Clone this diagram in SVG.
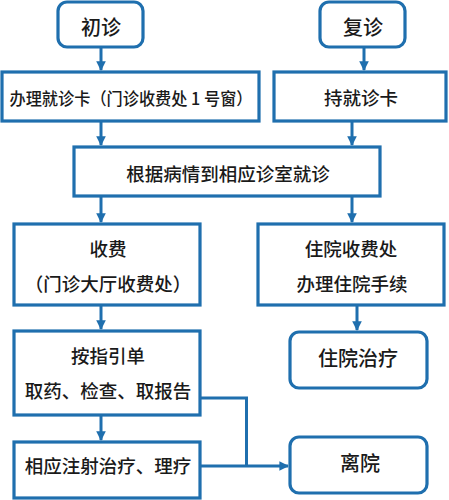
<svg xmlns="http://www.w3.org/2000/svg" width="449" height="500" viewBox="0 0 449 500">
<defs>
<marker id="ah" viewBox="0 0 10 10" refX="9" refY="5" markerWidth="3.2" markerHeight="3.2" orient="auto" markerUnits="strokeWidth">
<path d="M0,0 L10,5 L0,10 Z" fill="#1f6fae"/>
</marker>
<style>
.box{fill:#fff;stroke:#1f6fae;stroke-width:3.2}
.t{font-family:"Noto Sans CJK SC","Liberation Sans",sans-serif;font-size:18.5px;font-weight:500;fill:#1a1a1a;text-anchor:middle;dominant-baseline:central}
.c{fill:none;stroke:#1f6fae;stroke-width:3}
</style>
</defs>
<rect width="449" height="500" fill="#fff"/>
<g id="connectors">
<line class="c" x1="101" y1="48" x2="101" y2="70" marker-end="url(#ah)"/>
<line class="c" x1="364" y1="48" x2="364" y2="70" marker-end="url(#ah)"/>
<line class="c" x1="101" y1="122" x2="101" y2="145" marker-end="url(#ah)"/>
<line class="c" x1="352" y1="122" x2="352" y2="145" marker-end="url(#ah)"/>
<line class="c" x1="101" y1="197" x2="101" y2="222" marker-end="url(#ah)"/>
<line class="c" x1="352" y1="197" x2="352" y2="222" marker-end="url(#ah)"/>
<line class="c" x1="101" y1="306" x2="101" y2="329" marker-end="url(#ah)"/>
<line class="c" x1="357" y1="306" x2="357" y2="330" marker-end="url(#ah)"/>
<line class="c" x1="101" y1="415" x2="101" y2="440" marker-end="url(#ah)"/>
<polyline class="c" points="200,398 246.5,398 246.5,466"/>
<line class="c" x1="200" y1="466" x2="288" y2="466" marker-end="url(#ah)"/>
</g>
<g id="n1"><rect class="box" x="58" y="2" width="85" height="45" rx="9"/><text class="t" x="101" y="26" style="font-size:20px">初诊</text></g>
<g id="n2"><rect class="box" x="320" y="2" width="85" height="45" rx="9"/><text class="t" x="363" y="26" style="font-size:20px">复诊</text></g>
<g id="n3"><rect class="box" x="2" y="72" width="257" height="49"/><text class="t" x="131" y="97" style="font-size:17px" textLength="243" lengthAdjust="spacingAndGlyphs">办理就诊卡（门诊收费处 1 号窗）</text></g>
<g id="n4"><rect class="box" x="274" y="72" width="172" height="49"/><text class="t" x="361" y="97">持就诊卡</text></g>
<g id="n5"><rect class="box" x="74" y="147" width="306" height="49"/><text class="t" x="228" y="173">根据病情到相应诊室就诊</text></g>
<g id="n6"><rect class="box" x="14" y="224" width="186" height="81"/><text class="t" x="108" y="248">收费</text><text class="t" x="108" y="283">（门诊大厅收费处）</text></g>
<g id="n7"><rect class="box" x="258" y="224" width="186" height="81"/><text class="t" x="351" y="248">住院收费处</text><text class="t" x="352" y="283">办理住院手续</text></g>
<g id="n8"><rect class="box" x="14" y="331" width="186" height="84"/><text class="t" x="108" y="355">按指引单</text><text class="t" x="108" y="390">取药、检查、取报告</text></g>
<g id="n9"><rect class="box" x="290" y="332" width="137" height="56" rx="9"/><text class="t" x="358" y="357" style="font-size:20px">住院治疗</text></g>
<g id="n10"><rect class="box" x="14" y="442" width="186" height="56"/><text class="t" x="108" y="465">相应注射治疗、理疗</text></g>
<g id="n11"><rect class="box" x="290" y="437" width="137" height="56" rx="9"/><text class="t" x="360" y="462" style="font-size:20px">离院</text></g>
</svg>
